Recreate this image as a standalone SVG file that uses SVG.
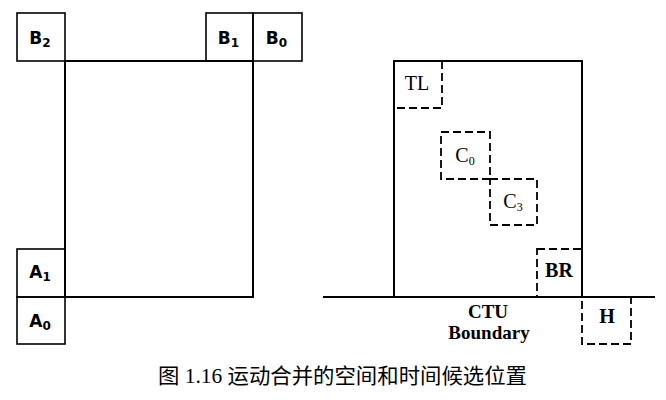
<svg xmlns="http://www.w3.org/2000/svg" width="666" height="400" viewBox="0 0 666 400">
<style>
.box{fill:none;stroke:#000;stroke-width:1.6}
.line{fill:none;stroke:#000;stroke-width:2}
.dash{fill:none;stroke:#000;stroke-width:1.8;stroke-dasharray:8 4}
.sl{font-family:"DejaVu Sans","Liberation Sans",sans-serif;font-weight:bold;font-size:17px;text-anchor:middle}
.rl{font-family:"Liberation Serif",serif;font-size:20px;text-anchor:middle}
.b{font-weight:bold}
.sub{font-size:12px}
.ctu{font-family:"Liberation Serif",serif;font-weight:bold;font-size:19px;text-anchor:middle}
.cap{font-family:"Liberation Serif","Noto Sans CJK SC",serif;font-size:21px}
</style>
<rect width="666" height="400" fill="#fff"/>
<g id="connectors">
<path class="line" d="M65 61 H253 V297 H65 Z"/>
<path class="line" d="M394 297 V61 H582 V297"/>
<path class="line" d="M323 297 H655"/>
</g>
<g id="B2"><rect class="box" x="17" y="13" width="48" height="48"/><text class="sl" x="40" y="44">B<tspan class="sub" dy="3">2</tspan></text></g>
<g id="B1"><rect class="box" x="206" y="13" width="47" height="48"/><text class="sl" x="228.5" y="44">B<tspan class="sub" dy="3">1</tspan></text></g>
<g id="B0"><rect class="box" x="253" y="13" width="49" height="48"/><text class="sl" x="276.5" y="44">B<tspan class="sub" dy="3">0</tspan></text></g>
<g id="A1"><rect class="box" x="17" y="249" width="48" height="48"/><text class="sl" x="40" y="278">A<tspan class="sub" dy="3">1</tspan></text></g>
<g id="A0"><rect class="box" x="17" y="297" width="48" height="47"/><text class="sl" x="40" y="327">A<tspan class="sub" dy="3">0</tspan></text></g>
<g id="TL"><rect class="dash" x="394" y="61" width="48" height="47"/><text class="rl" x="417" y="90">TL</text></g>
<g id="C0"><rect class="dash" x="441" y="132" width="49" height="47"/><text class="rl" x="465" y="162">C<tspan class="sub" dy="3">0</tspan></text></g>
<g id="C3"><rect class="dash" x="490" y="179" width="47" height="46"/><text class="rl" x="513" y="208">C<tspan class="sub" dy="3">3</tspan></text></g>
<g id="BR"><rect class="dash" x="537" y="249" width="45" height="48"/><text class="rl b" x="559" y="277">BR</text></g>
<g id="H"><rect class="dash" x="582" y="297" width="49" height="47"/><text class="rl b" x="607" y="323">H</text></g>
<g id="ctu-label"><text class="ctu" x="488" y="318">CTU</text><text class="ctu" x="489" y="339">Boundary</text></g>
<text class="cap" x="158" y="383" textLength="369" lengthAdjust="spacingAndGlyphs">图 1.16 运动合并的空间和时间候选位置</text>
</svg>
